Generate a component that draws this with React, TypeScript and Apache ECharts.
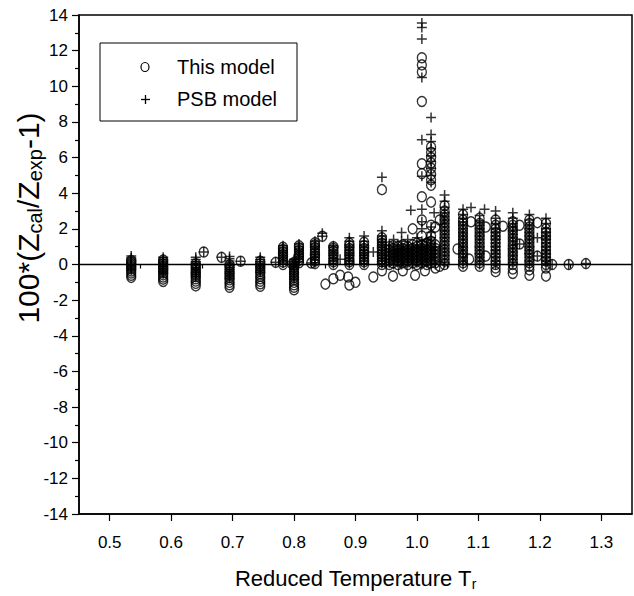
import React, { useEffect, useRef } from "react";
import * as echarts from "echarts";

const FONT = "'Liberation Sans', Arial, Helvetica, sans-serif";

// Tick values
const xMajorTicks = [0.5, 0.6, 0.7, 0.8, 0.9, 1.0, 1.1, 1.2, 1.3];
const xMinorTicks = [0.55, 0.65, 0.75, 0.85, 0.95, 1.05, 1.15, 1.25];

const legendNames = ["This model", "PSB model"];

// "This model" (circles): [reduced temperature, list of deviations]
const thisModelCols: [number, number[]][] = [
  [0.535, [-0.72, -0.6, -0.48, -0.36, -0.24, -0.12, 0, 0.12, 0.22]],
  [0.587, [-0.95, -0.82, -0.7, -0.58, -0.46, -0.34, -0.22, -0.1, 0.02, 0.14, 0.25]],
  [0.64, [-1.2, -1.06, -0.93, -0.8, -0.68, -0.56, -0.44, -0.32, -0.2, -0.08, 0.04]],
  [0.653, [0.7]],
  [0.682, [0.4]],
  [0.695, [-1.28, -1.14, -1.0, -0.86, -0.72, -0.58, -0.44, -0.3, -0.16, -0.02]],
  [0.713, [0.18]],
  [0.745, [-1.22, -1.08, -0.94, -0.8, -0.66, -0.52, -0.38, -0.24, -0.1, 0.04, 0.18]],
  [0.77, [0.12]],
  [0.782, [0, 0.14, 0.28, 0.42, 0.56, 0.7, 0.84, 0.97]],
  [0.797, [0.02]],
  [0.8, [-1.42, -1.28, -1.14, -1.0, -0.86, -0.72, -0.58, -0.44, -0.3, -0.16, -0.02, 0.12]],
  [0.808, [0.1, 0.24, 0.38, 0.52, 0.66, 0.8, 0.94, 1.05]],
  [0.828, [0.08]],
  [0.834, [0.05, 0.2, 0.35, 0.5, 0.65, 0.8, 0.95, 1.1, 1.22]],
  [0.846, [1.58]],
  [0.851, [-1.1]],
  [0.864, [-0.8, 0, 0.15, 0.3, 0.45, 0.6, 0.75, 0.9, 1.0]],
  [0.875, [-0.6]],
  [0.888, [-0.7]],
  [0.89, [-1.15, 0, 0.15, 0.3, 0.45, 0.6, 0.75, 0.9, 1.05, 1.2]],
  [0.9, [-1.0]],
  [0.914, [0, 0.15, 0.3, 0.45, 0.6, 0.75, 0.9, 1.05, 1.25]],
  [0.929, [-0.7]],
  [0.943, [-0.35, 0, 0.15, 0.3, 0.45, 0.6, 0.75, 0.9, 1.05, 1.2, 1.35, 1.5, 4.2]],
  [0.955, [0, 0.2, 0.4, 0.6, 0.8, 1.0]],
  [0.961, [-0.65, 0.1, 0.3, 0.5, 0.7, 0.9, 1.05]],
  [0.969, [0, 0.2, 0.4, 0.6, 0.8, 1.0]],
  [0.977, [-0.35, 0.1, 0.3, 0.5, 0.7, 0.9, 1.1]],
  [0.985, [0, 0.2, 0.4, 0.6, 0.8, 1.0]],
  [0.993, [0.1, 0.3, 0.5, 0.7, 0.9, 1.1, 2.0]],
  [0.997, [-0.6]],
  [1.0, [0, 0.2, 0.4, 0.6, 0.8, 1.0, 1.2]],
  [1.008, [0.1, 0.3, 0.5, 0.7, 0.9, 1.1, 1.6, 2.5, 3.8, 5.1, 5.65, 9.15, 10.8, 11.2, 11.6]],
  [1.013, [-0.35]],
  [1.016, [0, 0.2, 0.4, 0.6, 0.8, 1.0, 1.2]],
  [1.023, [0.1, 0.3, 0.5, 0.7, 0.9, 1.1, 1.3, 1.6, 2.2, 3.5, 4.45, 4.75, 5.05, 5.4, 5.7, 6.0, 6.3, 6.6]],
  [1.03, [-0.2, 0.1, 0.3, 0.5, 0.7, 0.9, 1.1, 2.1]],
  [1.037, [2.5, -0.1]],
  [1.045, [0, 0.2, 0.4, 0.6, 0.8, 1.0, 1.2, 1.4, 1.6, 1.8, 2.0, 2.2, 2.4, 2.6, 2.8, 3.0, 3.3]],
  [1.066, [0.87]],
  [1.075, [-0.1, 0.1, 0.3, 0.5, 0.7, 0.9, 1.1, 1.3, 1.5, 1.7, 1.9, 2.1, 2.3, 2.5, 2.8]],
  [1.085, [0.3]],
  [1.088, [2.4]],
  [1.102, [-0.1, 0.1, 0.3, 0.5, 0.7, 0.9, 1.1, 1.3, 1.5, 1.7, 1.9, 2.1, 2.3, 2.6]],
  [1.112, [2.1, 0.47]],
  [1.128, [-0.4, -0.2, 0, 0.2, 0.4, 0.6, 0.8, 1.0, 1.2, 1.4, 1.6, 1.8, 2.0, 2.2, 2.5]],
  [1.14, [2.15]],
  [1.156, [-0.5, -0.25, 0, 0.2, 0.4, 0.6, 0.8, 1.0, 1.2, 1.4, 1.6, 1.8, 2.0, 2.2, 2.4]],
  [1.167, [2.2, 1.15]],
  [1.183, [-0.6, -0.3, -0.1, 0.1, 0.3, 0.5, 0.7, 0.9, 1.1, 1.3, 1.5, 1.7, 1.9, 2.1, 2.3, 2.5]],
  [1.196, [2.35, 0.47]],
  [1.21, [-0.65, -0.2, 0, 0.2, 0.4, 0.6, 0.8, 1.0, 1.2, 1.4, 1.6, 1.8, 2.0, 2.3]],
  [1.22, [0]],
  [1.247, [0]],
  [1.275, [0.05]],
];

// "PSB model" (plus signs)
const psbModelCols: [number, number[]][] = [
  [0.535, [-0.3, -0.2, -0.08, 0.03, 0.14, 0.25, 0.36, 0.48]],
  [0.587, [-0.5, -0.4, -0.3, -0.2, -0.1, 0, 0.1, 0.2, 0.3, 0.4]],
  [0.64, [-0.68, -0.55, -0.42, -0.3, -0.18, -0.06, 0.05, 0.16, 0.28, 0.4]],
  [0.653, [0.7]],
  [0.682, [0.4]],
  [0.695, [-0.78, -0.65, -0.52, -0.4, -0.28, -0.16, -0.04, 0.08, 0.2, 0.32, 0.45]],
  [0.713, [0.18]],
  [0.745, [-0.45, -0.32, -0.2, -0.08, 0.04, 0.16, 0.28, 0.4]],
  [0.77, [0.12]],
  [0.782, [0.08, 0.22, 0.36, 0.5, 0.64, 0.78, 0.92, 1.05]],
  [0.797, [0.02]],
  [0.8, [-0.82, -0.68, -0.54, -0.4, -0.26, -0.12, 0.02, 0.16, 0.3]],
  [0.808, [0.16, 0.3, 0.44, 0.58, 0.72, 0.86, 1.0, 1.15]],
  [0.828, [0.08]],
  [0.834, [0.1, 0.25, 0.4, 0.55, 0.7, 0.85, 1.0, 1.15, 1.3]],
  [0.846, [1.58, 1.75]],
  [0.864, [0.05, 0.2, 0.35, 0.5, 0.65, 0.8, 0.95, 1.05]],
  [0.875, [0.3]],
  [0.89, [0.05, 0.2, 0.35, 0.5, 0.65, 0.8, 0.95, 1.1, 1.3, 1.5]],
  [0.914, [0.05, 0.2, 0.35, 0.5, 0.65, 0.8, 0.95, 1.1, 1.3, 1.6]],
  [0.929, [0.7]],
  [0.943, [0.05, 0.2, 0.35, 0.5, 0.65, 0.8, 0.95, 1.1, 1.25, 1.4, 1.6, 1.9, 4.9]],
  [0.955, [0.1, 0.3, 0.5, 0.7, 0.9, 1.1]],
  [0.962, [0, 0.2, 0.4, 0.6, 0.8, 1.0, 1.4]],
  [0.969, [0.1, 0.3, 0.5, 0.7, 0.9, 1.1]],
  [0.975, [0, 0.2, 0.4, 0.6, 0.8, 1.0, 1.3, 1.8]],
  [0.985, [0.1, 0.3, 0.5, 0.7, 0.9, 1.1, 1.4]],
  [0.99, [3.05]],
  [0.993, [0, 0.2, 0.4, 0.6, 0.8, 1.0]],
  [1.0, [0.1, 0.3, 0.5, 0.7, 0.9, 1.1, 1.5]],
  [1.008, [0, 0.2, 0.4, 0.6, 0.8, 1.0, 1.3, 2.0, 2.4, 3.1, 4.95, 7.0, 10.5, 12.65, 13.3, 13.55]],
  [1.016, [0.1, 0.3, 0.5, 0.7, 0.9, 1.1, 1.4]],
  [1.023, [0, 0.2, 0.4, 0.6, 0.8, 1.0, 1.2, 1.5, 1.8, 2.1, 4.6, 5.0, 5.4, 5.8, 6.1, 6.5, 6.9, 7.3, 8.25]],
  [1.028, [2.9]],
  [1.03, [0, 0.2, 0.4, 0.6, 0.8, 1.0]],
  [1.045, [0.1, 0.3, 0.5, 0.7, 0.9, 1.1, 1.3, 1.5, 1.7, 1.9, 2.1, 2.3, 2.5, 2.7, 2.9, 3.2, 3.55, 3.9]],
  [1.075, [0, 0.2, 0.4, 0.6, 0.8, 1.0, 1.2, 1.4, 1.6, 1.8, 2.0, 2.2, 2.4, 2.6, 2.8, 3.1]],
  [1.088, [3.2]],
  [1.102, [0, 0.2, 0.4, 0.6, 0.8, 1.0, 1.2, 1.4, 1.6, 1.8, 2.0, 2.2, 2.45, 2.75]],
  [1.11, [3.1]],
  [1.128, [0, 0.2, 0.4, 0.6, 0.8, 1.0, 1.2, 1.4, 1.6, 1.8, 2.0, 2.3, 2.6, 3.0]],
  [1.156, [0.1, 0.3, 0.5, 0.7, 0.9, 1.1, 1.3, 1.5, 1.7, 1.9, 2.1, 2.3, 2.6, 2.9]],
  [1.167, [1.15]],
  [1.183, [0, 0.2, 0.4, 0.6, 0.8, 1.0, 1.2, 1.4, 1.6, 1.8, 2.0, 2.2, 2.5, 2.8]],
  [1.196, [1.5, 0.47]],
  [1.21, [0, 0.2, 0.4, 0.6, 0.8, 1.0, 1.2, 1.4, 1.6, 1.8, 2.0, 2.3, 2.6]],
  [1.22, [0]],
  [1.247, [0]],
  [1.275, [0.05]],
];

const flatten = (cols: [number, number[]][]) => {
  const out: [number, number][] = [];
  cols.forEach(([t, vals]) => vals.forEach((v) => out.push([t, v])));
  return out;
};

const PLUS = "path://M4.25,0H5.75V4.25H10V5.75H5.75V10H4.25V5.75H0V4.25H4.25Z";

export default function App() {
  const ref = useRef<HTMLDivElement>(null);
  useEffect(() => {
    if (!ref.current) return;
    const chart = echarts.init(ref.current, undefined, { renderer: "svg" });
    const option: any = {
      animation: false,
      backgroundColor: "#fff",
      grid: {
        left: 79,
        right: 2,
        top: 15,
        bottom: 80,
        show: true,
        borderColor: "#000",
        borderWidth: 1.5,
        backgroundColor: "transparent",
      },
      xAxis: [
        {
          type: "value",
          min: 0.45,
          max: 1.35,
          position: "bottom",
          axisLine: { show: true, onZero: false, lineStyle: { color: "#000", width: 1.5 } },
          axisTick: { show: true, customValues: xMajorTicks, length: 7, lineStyle: { color: "#000", width: 1.2 } },
          axisLabel: {
            customValues: xMajorTicks,
            formatter: (v: number) => v.toFixed(1),
            color: "#000",
            fontSize: 17,
            fontFamily: FONT,
            margin: 20,
          },
          splitLine: { show: false },
          name: "Reduced Temperature T{sub|r}",
          nameLocation: "middle",
          nameGap: 51,
          nameTextStyle: {
            fontSize: 22,
            fontFamily: FONT,
            color: "#000",
            rich: { sub: { fontSize: 14, fontFamily: FONT, color: "#000", padding: [12, 0, 0, 0] } },
          },
        },
        {
          type: "value",
          min: 0.45,
          max: 1.35,
          position: "bottom",
          axisLine: { show: false },
          axisTick: { show: true, customValues: xMinorTicks, length: 4, lineStyle: { color: "#000", width: 1.2 } },
          axisLabel: { show: false },
          splitLine: { show: false },
        },
      ],
      yAxis: {
        type: "value",
        min: -14,
        max: 14,
        interval: 2,
        axisLine: { show: true, onZero: false, lineStyle: { color: "#000", width: 1.5 } },
        axisTick: { show: true, length: 7, lineStyle: { color: "#000", width: 1.2 } },
        minorTick: { show: true, splitNumber: 2, length: 4, lineStyle: { color: "#000", width: 1.2 } },
        axisLabel: { color: "#000", fontSize: 17, fontFamily: FONT, margin: 11 },
        splitLine: { show: false },
      },
      series: [
        {
          name: legendNames[0],
          type: "scatter",
          xAxisIndex: 0,
          data: flatten(thisModelCols),
          symbol: "circle",
          symbolSize: [9, 10],
          itemStyle: { color: "transparent", borderColor: "#000", borderWidth: 1.4 },
          markLine: {
            silent: true,
            symbol: ["none", "none"],
            label: { show: false },
            lineStyle: { color: "#000", width: 1.3, type: "solid" },
            data: [{ yAxis: 0 }],
          },
        },
        {
          name: legendNames[1],
          type: "scatter",
          xAxisIndex: 0,
          data: flatten(psbModelCols),
          symbol: PLUS,
          symbolSize: 10,
          itemStyle: { color: "#000" },
        },
      ],
      graphic: [
        {
          type: "text",
          x: 28,
          y: 218,
          rotation: Math.PI / 2,
          style: {
            text: "100*(Z{sub|cal}/Z{sub|exp}-1)",
            fontSize: 30,
            fontFamily: FONT,
            fill: "#000",
            align: "center",
            verticalAlign: "middle",
            rich: { sub: { fontSize: 20, fontFamily: FONT, fill: "#000", padding: [14, 0, 0, 0] } },
          },
        },
        {
          type: "rect",
          shape: { x: 100, y: 43, width: 197, height: 78 },
          style: { fill: "#fff", stroke: "#000", lineWidth: 1 },
        },
        {
          type: "ellipse",
          shape: { cx: 145, cy: 67, rx: 4, ry: 4.5 },
          style: { fill: "none", stroke: "#000", lineWidth: 1.2 },
        },
        {
          type: "line",
          shape: { x1: 141, y1: 99.5, x2: 150, y2: 99.5 },
          style: { stroke: "#000", lineWidth: 1.3 },
        },
        {
          type: "line",
          shape: { x1: 145.5, y1: 95, x2: 145.5, y2: 104 },
          style: { stroke: "#000", lineWidth: 1.3 },
        },
        {
          type: "text",
          x: 177,
          y: 67,
          style: { text: legendNames[0], fontSize: 20, fontFamily: FONT, fill: "#000", verticalAlign: "middle" },
        },
        {
          type: "text",
          x: 177,
          y: 99,
          style: { text: legendNames[1], fontSize: 20, fontFamily: FONT, fill: "#000", verticalAlign: "middle" },
        },
      ],
    };
    chart.setOption(option);
    return () => chart.dispose();
  }, []);
  return (
    <div
      ref={ref}
      style={{ position: "fixed", left: 0, top: 0, width: 634, height: 596, background: "#fff" }}
    />
  );
}
